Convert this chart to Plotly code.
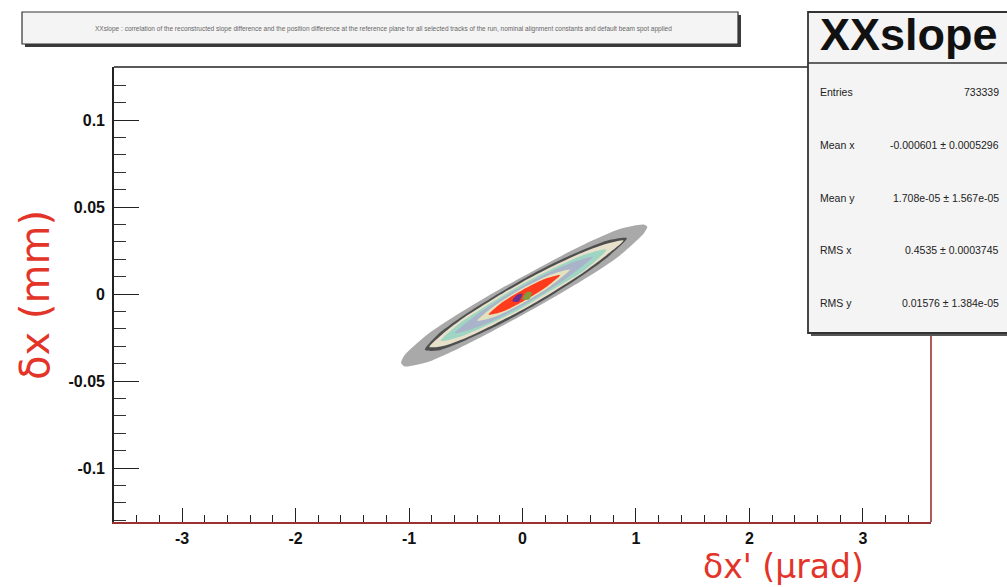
import plotly.graph_objects as go

# ---- axis ticks -------------------------------------------------------------
x_tick_vals = [-3, -2, -1, 0, 1, 2, 3]
x_tick_text = ["-3", "-2", "-1", "0", "1", "2", "3"]
y_tick_vals = [0.1, 0.05, 0, -0.05, -0.1]
y_tick_text = ["0.1", "0.05", "0", "-0.05", "-0.1"]

# ---- contour bands of the 2D histogram (outermost first) ------------------
gray_x = [-1.07, -1.04, -0.85, -0.6, -0.3, 0.0, 0.3, 0.6, 0.85, 1.07, 1.10,
          1.07, 0.85, 0.6, 0.3, 0.0, -0.3, -0.6, -0.85, -1.04]
gray_y = [-0.0395, -0.0352, -0.0238, -0.0128, -0.0010, 0.0100, 0.0205, 0.0303, 0.0373, 0.0400, 0.0386,
          0.0350, 0.0218, 0.0108, -0.0010, -0.0120, -0.0225, -0.0324, -0.0394, -0.0416]

dark_x = [-0.86, -0.75, -0.5, -0.25, 0.0, 0.25, 0.5, 0.75, 0.92,
          0.75, 0.5, 0.25, 0.0, -0.25, -0.5, -0.75]
dark_y = [-0.0320, -0.0235, -0.0115, -0.0012, 0.0084, 0.0170, 0.0245, 0.0308, 0.0321,
          0.0212, 0.0095, -0.0010, -0.0104, -0.0190, -0.0265, -0.0325]

beige_x = [-0.82, -0.7, -0.5, -0.25, 0.0, 0.25, 0.5, 0.7, 0.89,
           0.7, 0.5, 0.25, 0.0, -0.25, -0.5, -0.7]
beige_y = [-0.0304, -0.0227, -0.0128, -0.0025, 0.0070, 0.0155, 0.0231, 0.0281, 0.0308,
           0.0203, 0.0108, 0.0005, -0.0090, -0.0175, -0.0252, -0.0298]

teal_x = [-0.72, -0.55, -0.25, 0.0, 0.25, 0.55, 0.74,
          0.55, 0.25, 0.0, -0.25, -0.55]
teal_y = [-0.0269, -0.0167, -0.0040, 0.0058, 0.0141, 0.0227, 0.0256,
          0.0139, 0.0020, -0.0078, -0.0160, -0.0245]

blue_x = [-0.60, -0.4, -0.2, 0.0, 0.2, 0.4, 0.62,
          0.4, 0.2, 0.0, -0.2, -0.4]
blue_y = [-0.0226, -0.0117, -0.0031, 0.0046, 0.0114, 0.0172, 0.0213,
          0.0096, 0.0011, -0.0066, -0.0134, -0.0191]

cream_x = [-0.40, -0.25, -0.12, 0.0, 0.12, 0.25, 0.42,
           0.25, 0.12, 0.0, -0.12, -0.25]
cream_y = [-0.0154, -0.0068, -0.0012, 0.0034, 0.0074, 0.0113, 0.0141,
           0.0047, -0.0008, -0.0054, -0.0094, -0.0132]

red_x = [-0.30, -0.2, -0.1, 0.0, 0.1, 0.2, 0.33,
         0.2, 0.1, 0.0, -0.1, -0.2]
red_y = [-0.0118, -0.0058, -0.0014, 0.0024, 0.0058, 0.0088, 0.0109,
         0.0036, -0.0006, -0.0044, -0.0078, -0.0106]

purple_x = [-0.09, -0.05, 0.0, -0.035]
purple_y = [-0.0040, -0.0005, 0.0003, -0.0045]

green_x = [0.0, 0.03, 0.08, 0.06]
green_y = [-0.0030, 0.0008, 0.0012, -0.0030]

bands = [
    (gray_x, gray_y, "#a9a9a9"),
    (dark_x, dark_y, "#4e4e4e"),
    (beige_x, beige_y, "#e7e0cb"),
    (teal_x, teal_y, "#9fd6c3"),
    (blue_x, blue_y, "#a9b4ca"),
    (cream_x, cream_y, "#e3e2bd"),
    (red_x, red_y, "#ff3b1e"),
    (purple_x, purple_y, "#6b2f8f"),
    (green_x, green_y, "#7f9b3b"),
]

# ---- statistics box ---------------------------------------------------------
hist_name = "XXslope"
stats_labels = ["Entries", "Mean x", "Mean y", "RMS x", "RMS y"]
stats_values = ["733339", "-0.000601 \u00b1 0.0005296", "1.708e-05 \u00b1 1.567e-05",
                "0.4535 \u00b1 0.0003745", "0.01576 \u00b1 1.384e-05"]

page_title = ("XXslope : correlation of the reconstructed slope difference and the position "
              "difference at the reference plane for all selected tracks of the run, nominal "
              "alignment constants and default beam spot applied")

# ---- figure geometry (pixels) ------------------------------------------------
W, H = 1007, 587
L, R, T, B = 114, 76, 67, 65
pw, ph = W - L - R, H - T - B


def px(x):
    return (x - L) / pw


def py(y):
    return (H - B - y) / ph


fig = go.Figure()
for bx, by, col in bands:
    fig.add_trace(go.Scatter(
        x=bx + bx[:1], y=by + by[:1], mode="lines", fill="toself",
        fillcolor=col, line=dict(width=0, color=col, shape="spline", smoothing=0.7),
        hoverinfo="skip", showlegend=False))

axis_font = dict(family="Liberation Sans", size=16, color="#111111", weight="bold")

fig.update_layout(
    width=W, height=H,
    margin=dict(l=L, r=R, t=T, b=B, pad=0),
    paper_bgcolor="white", plot_bgcolor="white",
    font=dict(family="Liberation Sans", color="#111111"),
    showlegend=False,
    xaxis=dict(
        range=[-3.6, 3.6], tickmode="array", tickvals=x_tick_vals, ticktext=x_tick_text,
        ticks="inside", ticklen=14, tickwidth=1.3, tickcolor="#222222",
        minor=dict(tickmode="linear", tick0=0, dtick=0.2, ticks="inside", ticklen=7,
                   tickwidth=1, tickcolor="#222222", showgrid=False),
        showgrid=False, zeroline=False, showline=True, linecolor="#9a3232", linewidth=1.6,
        tickfont=axis_font, ticklabelstandoff=1, fixedrange=True),
    yaxis=dict(
        range=[-0.131, 0.1305], tickmode="array", tickvals=y_tick_vals, ticktext=y_tick_text,
        ticks="inside", ticklen=25, tickwidth=1.3, tickcolor="#222222",
        minor=dict(tickmode="linear", tick0=0, dtick=0.01, ticks="inside", ticklen=12,
                   tickwidth=1, tickcolor="#333333", showgrid=False),
        showgrid=False, zeroline=False, showline=True, linecolor="#222222", linewidth=1.6,
        tickfont=axis_font, ticklabelstandoff=4, fixedrange=True),
)

shapes = []
# frame: top edge (black) and right edge (red-brown)
shapes.append(dict(type="line", xref="paper", yref="paper", x0=0, x1=px(808), y0=1, y1=1,
                   line=dict(color="#222222", width=1.6)))
shapes.append(dict(type="line", xref="paper", yref="paper", x0=1, x1=1, y0=0, y1=py(333),
                   line=dict(color="#9a3232", width=1.6)))
# title box with shadow
shapes.append(dict(type="rect", xref="paper", yref="paper", x0=px(25), x1=px(741), y0=py(47), y1=py(15),
                   fillcolor="#3a3a3a", line=dict(width=0)))
shapes.append(dict(type="rect", xref="paper", yref="paper", x0=px(22), x1=px(738), y0=py(44), y1=py(12),
                   fillcolor="#f4f4f4", line=dict(color="#333333", width=1.2)))
# statistics box with shadow
shapes.append(dict(type="rect", xref="paper", yref="paper", x0=px(811), x1=px(1015), y0=py(336), y1=py(15),
                   fillcolor="#555555", line=dict(width=0)))
shapes.append(dict(type="rect", xref="paper", yref="paper", x0=px(808), x1=px(1012), y0=py(333), y1=py(12),
                   fillcolor="#f4f4f4", line=dict(color="#333333", width=1.8)))
shapes.append(dict(type="line", xref="paper", yref="paper", x0=px(808), x1=px(1012), y0=py(63), y1=py(63),
                   line=dict(color="#333333", width=1.6)))
fig.update_layout(shapes=shapes)

ann = []
ann.append(dict(xref="paper", yref="paper", x=px(383), y=py(29), text=page_title, showarrow=False,
                xanchor="center", yanchor="middle", font=dict(size=6.5, color="#666666")))
ann.append(dict(xref="paper", yref="paper", x=px(818), y=py(34), text=hist_name, showarrow=False,
                xanchor="left", yanchor="middle",
                font=dict(family="Liberation Sans", size=45, color="#111111", weight="bold")))
stats_y = [92, 145, 198, 250, 303]
for lab, val, yy in zip(stats_labels, stats_values, stats_y):
    ann.append(dict(xref="paper", yref="paper", x=px(818), y=py(yy), text=lab, showarrow=False,
                    xanchor="left", yanchor="middle", font=dict(size=10.5, color="#222222")))
    ann.append(dict(xref="paper", yref="paper", x=px(1001), y=py(yy), text=val, showarrow=False,
                    xanchor="right", yanchor="middle", font=dict(size=10.5, color="#222222")))
# axis titles
ann.append(dict(xref="paper", yref="paper", x=px(783), y=py(566), text="\u03b4x' (\u03bcrad)",
                showarrow=False, xanchor="center", yanchor="middle",
                font=dict(family="DejaVu Sans", size=33, color="#e3342a")))
ann.append(dict(xref="paper", yref="paper", x=px(35), y=py(295), text="\u03b4x (mm)", textangle=-90,
                showarrow=False, xanchor="center", yanchor="middle",
                font=dict(family="DejaVu Sans", size=40, color="#e3342a")))
fig.update_layout(annotations=ann)

fig.write_html("out.html")
